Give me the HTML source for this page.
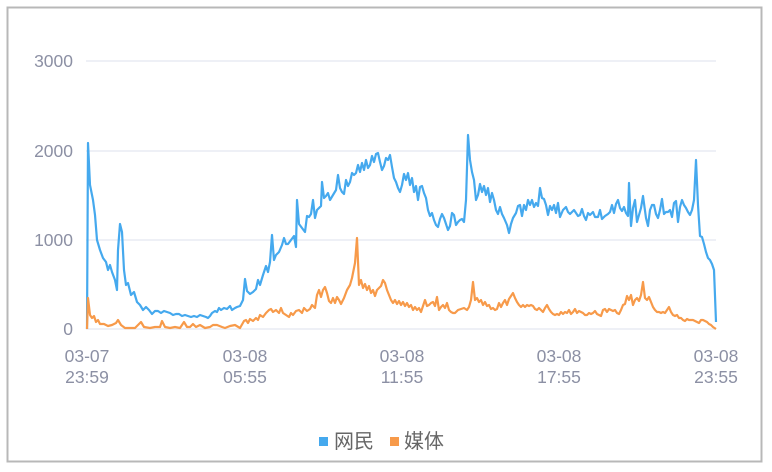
<!DOCTYPE html>
<html><head><meta charset="utf-8"><style>
html,body{margin:0;padding:0;background:#fff;}
svg{display:block;font-family:"Liberation Sans","Noto Sans CJK SC",sans-serif;}
</style></head><body>
<svg width="772" height="472" viewBox="0 0 772 472">
<rect x="7.5" y="7.5" width="754" height="454" fill="#fff" stroke="#b8b8b8" stroke-width="2"/>
<g stroke="#e8ebf3" stroke-width="1.5">
<line x1="86" y1="61" x2="716" y2="61"/><line x1="86" y1="151" x2="716" y2="151"/><line x1="86" y1="240" x2="716" y2="240"/><line x1="86" y1="329" x2="716" y2="329"/>
</g>
<g fill="#8c90a4" font-size="17.5" text-anchor="end">
<text x="73" y="67">3000</text><text x="73" y="157">2000</text><text x="73" y="246">1000</text><text x="73" y="335">0</text>
</g>
<g fill="#8c90a4" font-size="17.5" text-anchor="middle">
<text x="87" y="362">03-07</text><text x="87" y="383">23:59</text>
<text x="245" y="362">03-08</text><text x="245" y="383">05:55</text>
<text x="402" y="362">03-08</text><text x="402" y="383">11:55</text>
<text x="559" y="362">03-08</text><text x="559" y="383">17:55</text>
<text x="716" y="362">03-08</text><text x="716" y="383">23:55</text>
</g>
<polyline fill="none" stroke="#45a9ee" stroke-width="2.2" stroke-linejoin="round" points="87,329 88,143 90,185 93,200 95,215 97,240 100,250 103,258 106,262 108,270 110,265 112,272 115,280 117,290 118,250 120,224 122,232 124,270 126,285 128,283 131,295 134,292 137,302 140,305 143,310 146,307 149,310 152,314 155,311 158,311 161,313 164,311 167,312 170,313 173,315 176,314 179,314 182,316 185,315 188,316 191,317 194,316 197,317 200,315 203,316 206,317 208,318 210,316 212,313 215,311 217,312 219,308 221,310 224,308 227,309 230,306 232,310 235,308 237,307 240,306 243,300 245,279 247,291 250,294 253,292 256,289 258,280 260,285 263,275 266,266 268,272 270,262 272,235 274,260 276,255 279,252 282,245 284,238 286,244 288,244 291,240 294,236 296,247 297,200 299,224 302,228 305,232 307,216 309,217 311,214 313,200 315,218 317,210 319,208 321,206 322,182 324,198 326,196 328,193 330,200 333,195 336,190 338,175 340,188 342,192 344,194 346,180 348,186 350,182 352,173 354,175 356,173 358,165 360,172 362,163 364,170 366,160 368,168 370,165 372,156 374,162 376,154 378,153 380,162 382,170 384,166 386,158 388,160 390,155 392,167 394,178 396,182 398,188 400,192 402,185 404,174 406,180 408,173 410,185 412,178 414,192 416,186 418,200 420,187 422,186 424,193 426,198 428,210 430,216 432,213 434,220 436,225 438,227 440,219 442,214 444,218 446,224 448,230 450,226 452,213 454,215 456,225 458,222 460,220 462,219 464,222 466,200 468,135 470,160 472,172 474,180 476,200 478,195 480,184 482,192 484,186 486,195 488,188 490,202 492,193 494,200 496,210 498,214 500,207 502,214 504,218 507,225 509,233 511,224 513,218 516,213 518,206 520,205 522,216 524,205 526,210 528,200 530,205 532,200 534,207 536,203 538,206 540,188 542,198 544,199 546,205 548,215 550,206 552,210 554,205 556,213 558,203 560,217 563,210 566,207 568,212 570,214 572,212 574,210 576,213 578,216 580,215 582,209 584,216 586,220 588,213 590,215 593,212 595,217 598,217 600,210 602,219 605,216 608,214 610,212 612,205 614,213 616,204 618,200 620,208 622,211 624,207 626,213 628,216 629,183 631,226 633,208 635,200 637,222 639,215 641,208 643,196 646,218 648,226 650,210 652,205 654,205 656,214 658,218 660,210 662,199 664,214 666,212 668,212 670,210 672,217 674,203 676,201 678,222 680,207 682,200 684,205 686,208 688,212 690,215 692,210 694,200 696,160 698,205 700,236 702,237 704,244 706,252 708,258 710,260 712,264 714,270 716,322"/>
<polyline fill="none" stroke="#f79a4a" stroke-width="2.2" stroke-linejoin="round" points="87,329 88,298 90,315 92,318 94,316 96,322 98,320 100,324 104,324 108,326 112,325 116,323 118,320 121,325 125,328 130,328 135,328 138,325 141,322 144,327 150,328 155,327 160,327 162,321 165,327 170,328 175,327 180,328 184,322 187,327 190,327 193,324 196,327 200,325 205,328 210,327 213,325 217,325 222,327 225,328 230,326 235,325 240,328 244,321 246,320 248,323 250,319 253,321 256,318 258,320 260,315 263,317 266,313 269,310 271,309 273,312 276,310 279,313 281,308 283,313 286,315 289,317 291,313 293,315 296,311 299,310 302,313 304,308 307,311 310,309 312,305 315,308 317,295 319,290 321,297 323,290 325,287 327,293 329,301 331,303 333,298 335,303 337,297 339,300 341,304 344,298 347,290 350,285 352,278 355,263 357,238 359,285 361,280 363,288 365,284 367,290 369,286 371,293 373,290 375,296 377,290 379,288 381,286 383,280 385,283 387,290 389,295 391,300 393,303 395,300 397,304 399,301 401,305 403,302 405,306 407,303 409,307 411,305 413,310 415,307 417,310 419,308 421,312 423,306 425,300 427,306 429,305 431,303 433,302 435,306 437,297 439,310 441,307 443,305 445,308 447,303 449,310 451,312 453,313 455,313 458,310 461,309 464,308 467,310 469,307 471,300 473,282 475,300 477,298 479,302 481,300 483,305 485,302 487,306 489,305 491,309 493,308 495,310 497,309 499,303 501,307 503,303 505,300 507,305 509,299 511,296 513,293 515,298 517,302 519,305 521,307 523,305 525,307 527,305 529,306 531,305 533,306 535,309 537,310 539,308 541,310 543,312 545,308 547,305 549,309 551,312 553,314 555,315 557,314 559,315 561,312 563,314 565,312 567,313 569,310 571,314 573,312 575,309 577,313 579,311 581,312 583,313 585,315 587,315 589,313 591,314 593,313 595,311 597,314 599,315 601,316 603,310 605,309 607,312 609,309 611,310 613,311 615,310 617,313 619,314 621,310 623,305 625,304 627,296 629,300 631,295 633,305 635,300 637,298 639,301 641,295 643,282 645,298 647,300 649,297 651,302 653,307 655,310 657,312 659,312 661,313 663,312 665,313 667,310 669,307 671,312 673,315 675,316 677,315 679,318 681,318 683,320 685,321 687,319 689,320 691,320 693,320 695,321 697,322 699,323 701,320 703,320 705,321 707,322 709,324 711,325 713,327 716,329"/>
<rect x="319" y="437" width="9" height="9" fill="#45a9ee"/>
<text x="334" y="448" font-size="20" fill="#666">网民</text>
<rect x="390" y="437" width="9" height="9" fill="#f79a4a"/>
<text x="404" y="448" font-size="20" fill="#666">媒体</text>
</svg>
</body></html>
